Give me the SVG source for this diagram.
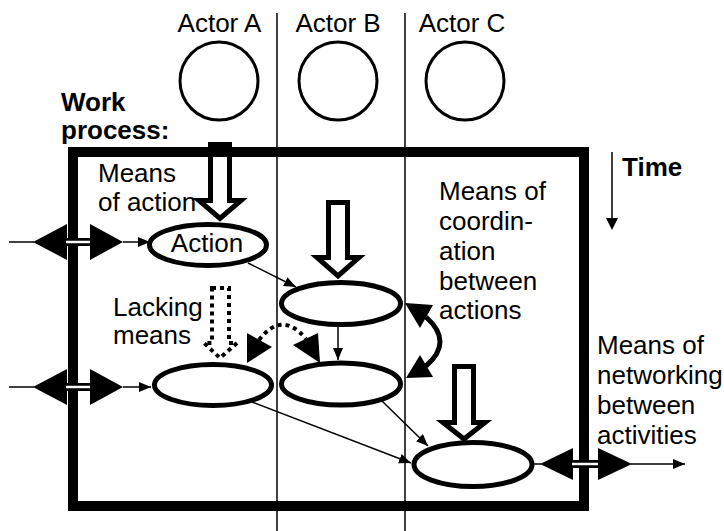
<svg xmlns="http://www.w3.org/2000/svg" width="724" height="531" viewBox="0 0 724 531">
<defs>
<marker id="ah" viewBox="0 0 12 10" refX="12" refY="5" markerWidth="12" markerHeight="10" markerUnits="userSpaceOnUse" orient="auto">
<path d="M0,0 L12,5 L0,10 Z" fill="#000"/>
</marker>
</defs>
<style>
text{font-family:"Liberation Sans",Arial,sans-serif;font-size:26px;fill:#000}
.b{font-weight:bold}
.lane{stroke:#000;stroke-width:1.5;fill:none}
.actor{fill:#fff;stroke:#000;stroke-width:3}
.node{fill:#fff;stroke:#000;stroke-width:5}
.hollow{fill:#fff;stroke:#000;stroke-width:5;stroke-linejoin:miter}
.thin{stroke:#000;stroke-width:1.5;fill:none}
.dot{fill:none;stroke:#000;stroke-width:4;stroke-dasharray:4 4}
.tri{fill:#000}
</style>
<rect width="724" height="531" fill="#fff"/>

<g id="lanes">
<line class="lane" x1="277" y1="13" x2="277" y2="531"/>
<line class="lane" x1="405" y1="13" x2="405" y2="531"/>
</g>

<g id="actorA"><text x="219.5" y="32" text-anchor="middle">Actor A</text><circle class="actor" cx="219" cy="81" r="39"/></g>
<g id="actorB"><text x="338" y="32" text-anchor="middle">Actor B</text><circle class="actor" cx="338" cy="81" r="39"/></g>
<g id="actorC"><text x="462" y="32" text-anchor="middle">Actor C</text><circle class="actor" cx="465" cy="81" r="39"/></g>

<g id="meansA"><path class="hollow" d="M210.5,144.5 H229.5 V200.5 H241 L220,218.5 L199,200.5 H210.5 Z"/></g>
<g id="meansB"><path class="hollow" d="M328.5,202.5 H347.5 V257.5 H359 L338,276 L317,257.5 H328.5 Z"/></g>
<g id="meansC"><path class="hollow" d="M454.5,366.5 H473.5 V422.5 H485 L464,439 L443,422.5 H454.5 Z"/></g>

<g id="workProcess">
<rect x="73" y="152" width="511" height="354" fill="none" stroke="#000" stroke-width="10"/>
<text class="b" x="61" y="111">Work</text>
<text class="b" x="61" y="139">process:</text>
</g>

<g id="labels">
<text x="98" y="182">Means</text>
<text x="98" y="211">of action</text>
<text x="113" y="316">Lacking</text>
<text x="113" y="344">means</text>
<text x="439" y="200">Means of</text>
<text x="439" y="230">coordin-</text>
<text x="439" y="260">ation</text>
<text x="439" y="290">between</text>
<text x="439" y="319">actions</text>
<text x="597" y="354">Means of</text>
<text x="597" y="384">networking</text>
<text x="597" y="414">between</text>
<text x="597" y="444">activities</text>
</g>

<g id="time">
<text class="b" x="622" y="176">Time</text>
<line class="thin" x1="612" y1="152" x2="612" y2="219"/>
<path class="tri" d="M606,218 L618,218 L612,230 Z"/>
</g>

<g id="lacking">
<path class="dot" d="M212,288 H229 V343 H237 L220,358 L204,343 H212 Z"/>
</g>

<g id="connectors">
<!-- left double arrows -->
<line class="thin" x1="9" y1="242" x2="34" y2="242"/>
<path class="tri" d="M33,242 L67,224 L67,260 Z"/>
<line x1="67" y1="242" x2="90" y2="242" stroke="#000" stroke-width="8"/>
<line x1="66" y1="242" x2="91" y2="242" stroke="#fff" stroke-width="2.5"/>
<path class="tri" d="M90,224 L123,242 L90,260 Z"/>
<line class="thin" x1="123" y1="242" x2="150" y2="242" marker-end="url(#ah)"/>

<line class="thin" x1="9" y1="387" x2="34" y2="387"/>
<path class="tri" d="M33,387 L67,369 L67,405 Z"/>
<line x1="67" y1="387" x2="90" y2="387" stroke="#000" stroke-width="8"/>
<line x1="66" y1="387" x2="91" y2="387" stroke="#fff" stroke-width="2.5"/>
<path class="tri" d="M90,369 L123,387 L90,405 Z"/>
<line class="thin" x1="123" y1="387" x2="151" y2="387" marker-end="url(#ah)"/>

<!-- right double arrow -->
<line class="thin" x1="534" y1="464" x2="541" y2="464"/>
<path class="tri" d="M540,464 L573,448 L573,480 Z"/>
<line x1="573" y1="464" x2="598" y2="464" stroke="#000" stroke-width="8"/>
<line x1="572" y1="464" x2="599" y2="464" stroke="#fff" stroke-width="2.5"/>
<path class="tri" d="M598,448 L632,464 L598,480 Z"/>
<line class="thin" x1="631" y1="464" x2="685" y2="464" marker-end="url(#ah)"/>

<!-- thin flows -->
<line class="thin" x1="248" y1="263" x2="296" y2="287" marker-end="url(#ah)"/>
<line class="thin" x1="338" y1="327" x2="338" y2="360" marker-end="url(#ah)"/>
<line class="thin" x1="252" y1="402" x2="411" y2="463" marker-end="url(#ah)"/>
<line class="thin" x1="381" y1="400" x2="428" y2="446" marker-end="url(#ah)"/>

<!-- coordination curved double arrow -->
<path d="M426,317 Q454,342 426,366" fill="none" stroke="#000" stroke-width="5"/>
<path class="tri" d="M405,303 L433,305 L420,328 Z"/>
<path class="tri" d="M406,378 L420,355 L433,377 Z"/>

<!-- dotted lacking arc -->
<path class="dot" d="M259,340 Q282,310 306,339"/>
<path class="tri" d="M247,363 L247,333 L272,347 Z"/>
<path class="tri" d="M320,363 L293,345 L318,333 Z"/>
</g>

<g id="action"><ellipse class="node" cx="208" cy="245" rx="58.5" ry="20.5"/><text x="207" y="252" text-anchor="middle">Action</text></g>
<g id="b1"><ellipse class="node" cx="341" cy="303.5" rx="59.5" ry="21"/></g>
<g id="a2"><ellipse class="node" cx="213" cy="385" rx="58.5" ry="20.5"/></g>
<g id="b2"><ellipse class="node" cx="341" cy="384" rx="59.5" ry="21"/></g>
<g id="c1"><ellipse class="node" cx="473" cy="464.5" rx="59" ry="22"/></g>
</svg>
